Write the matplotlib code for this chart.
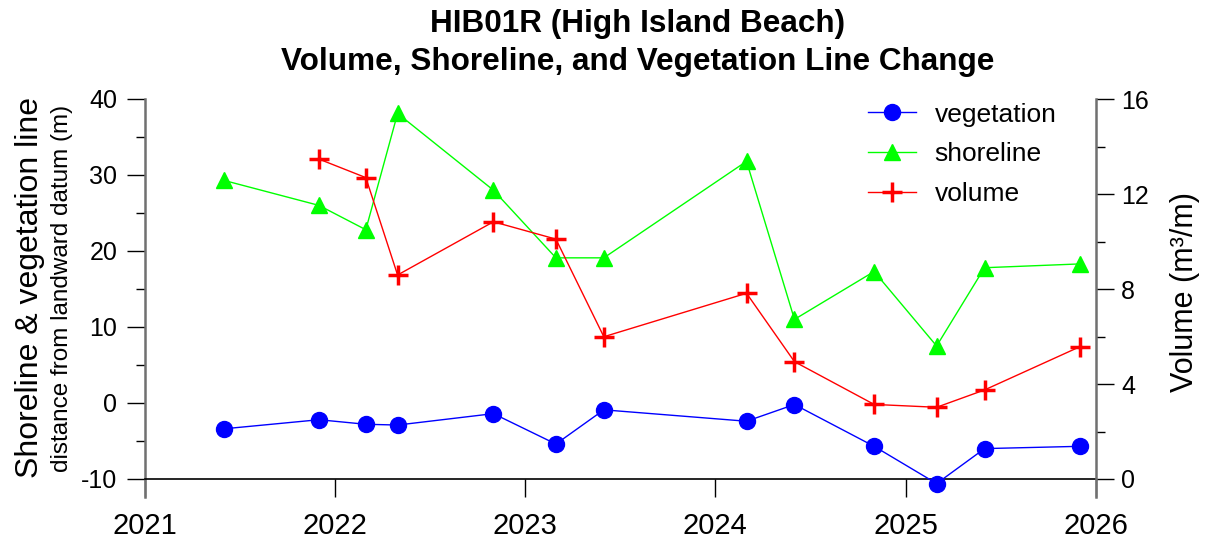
import matplotlib
matplotlib.use("Agg")
import matplotlib.pyplot as plt
import matplotlib.dates as mdates
from matplotlib.ticker import MultipleLocator
import pandas as pd

plt.rcParams['font.family'] = ['Liberation Sans', 'DejaVu Sans']
plt.rcParams['axes.unicode_minus'] = False

# ---- data ----
dates = ["2021-06-01", "2021-12-01", "2022-03-01", "2022-05-01", "2022-11-01",
         "2023-03-01", "2023-06-01", "2024-03-01", "2024-06-01", "2024-11-01",
         "2025-03-01", "2025-06-01", "2025-12-01"]
vegetation = [-3.4, -2.2, -2.8, -2.9, -1.4, -5.4, -0.9, -2.4, -0.2, -5.7, -10.6, -6.0, -5.7]
shoreline = [29.3, 26.0, 22.8, 38.1, 28.0, 19.1, 19.1, 31.8, 11.0, 17.3, 7.5, 17.8, 18.3]
volume_dates = dates[1:]
volume = [13.47, 12.69, 8.59, 10.83, 10.1, 5.99, 7.82, 4.94, 3.14, 3.02, 3.75, 5.57]

left_ticks = [-10, 0, 10, 20, 30, 40]
right_ticks = [0, 4, 8, 12, 16]
title_lines = ["HIB01R (High Island Beach)",
               "Volume, Shoreline, and Vegetation Line Change"]

x = pd.to_datetime(dates)
xv = pd.to_datetime(volume_dates)

W, H = 1209, 542
fig = plt.figure(figsize=(W/100, H/100), dpi=100)
ax = fig.add_axes([145/W, 1-497/H, (1096-145)/W, (497-99)/H])
ax2 = ax.twinx()

l1, = ax.plot(x, vegetation, color='#0000ff', lw=1, marker='o', ms=11.5,
              label='vegetation', zorder=3)
l2, = ax.plot(x, shoreline, color='#00ff00', lw=1, marker='^', ms=12,
              label='shoreline', zorder=3)
l3, = ax2.plot(xv, volume, color='#ff0000', lw=1, marker='+', ms=15, mew=2.5,
               label='volume', zorder=3)

ymin_extra = -10 - 18/7.6
ax.set_ylim(ymin_extra, 40)
ax2.set_ylim((ymin_extra + 10) * 16/50, 16)
ax.set_xlim(pd.Timestamp("2021-01-01"), pd.Timestamp("2026-01-01"))

ax.xaxis.set_major_locator(mdates.YearLocator())
ax.xaxis.set_major_formatter(mdates.DateFormatter('%Y'))
ax.set_yticks(left_ticks)
ax.yaxis.set_minor_locator(MultipleLocator(5))
ax2.set_yticks(right_ticks)
ax2.yaxis.set_minor_locator(MultipleLocator(2))

for s in ['top', 'right']:
    ax.spines[s].set_visible(False)
for s in ['top', 'left', 'bottom']:
    ax2.spines[s].set_visible(False)
ax.spines['bottom'].set_position(('data', -10))
ax.spines['bottom'].set_color('black')
ax.spines['bottom'].set_linewidth(1.2)
ax.spines['left'].set_color('#707070')
ax.spines['left'].set_linewidth(1.8)
ax2.spines['right'].set_color('#707070')
ax2.spines['right'].set_linewidth(1.8)

ax.tick_params(axis='both', which='major', direction='out', length=13, width=1,
               labelsize=18, color='black')
ax.tick_params(axis='x', labelsize=21, pad=11)
ax.tick_params(axis='y', which='minor', direction='out', length=6.5, width=1, color='black')
ax.tick_params(axis='y', pad=7)
ax2.tick_params(axis='y', which='major', direction='out', length=13, width=1,
                labelsize=18, color='black', pad=5)
ax2.tick_params(axis='y', which='minor', direction='out', length=6.5, width=1, color='black')

fig.text(638/W, 1-32/H, title_lines[0], fontsize=22.7, fontweight='bold',
         ha='center', va='baseline')
fig.text(638/W, 1-70/H, title_lines[1], fontsize=22.7, fontweight='bold',
         ha='center', va='baseline')

fig.text(30/W, 1-288/H, "Shoreline & vegetation line", rotation=90,
         fontsize=23, ha='center', va='center')
fig.text(62/W, 1-288/H, "distance from landward datum (m)", rotation=90,
         fontsize=17.5, ha='center', va='center')
fig.text(1185/W, 1-292/H, "Volume (m³/m)", rotation=90,
         fontsize=22, ha='center', va='center')

fig.legend(handles=[l1, l2, l3], loc='upper left',
           bbox_to_anchor=(857/W, 1-92/H), frameon=False, fontsize=19,
           handlelength=1.82, handletextpad=0.72, labelspacing=0.6,
           borderaxespad=0)

fig.savefig("out.png", dpi=100)
